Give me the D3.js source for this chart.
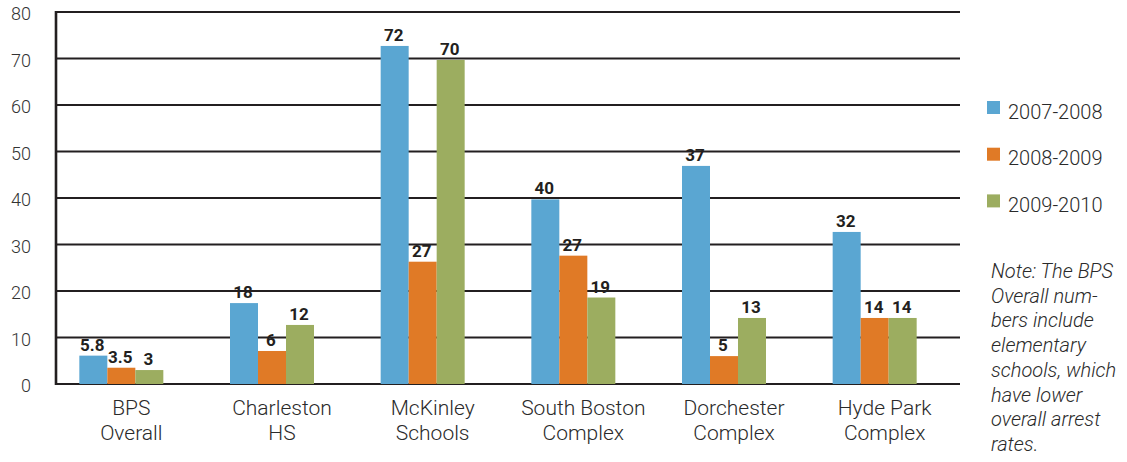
<!DOCTYPE html>
<html>
<head>
<meta charset="utf-8">
<script src="https://cdn.jsdelivr.net/npm/d3@7"></script>
<style>
  body { margin: 0; background: #fff; }
  svg { display: block; font-family: Roboto, "Open Sans", sans-serif; }
</style>
</head>
<body>
<div id="chart"></div>
<script>
// data
const categories = ["BPS|Overall", "Charleston|HS", "McKinley|Schools", "South Boston|Complex", "Dorchester|Complex", "Hyde Park|Complex"];
const seriesNames = ["2007-2008", "2008-2009", "2009-2010"];
// bar heights as drawn
const heights2007 = [6.1, 17.4, 72.7, 39.7, 46.9, 32.7];
const heights2008 = [3.5, 7.1, 26.3, 27.6, 6.0, 14.2];
const heights2009 = [3.0, 12.7, 69.7, 18.6, 14.2, 14.2];
// printed value labels
const labels2007 = ["5.8", "18", "72", "40", "37", "32"];
const labels2008 = ["3.5", "6", "27", "27", "5", "14"];
const labels2009 = ["3", "12", "70", "19", "13", "14"];
const yTicks = [0, 10, 20, 30, 40, 50, 60, 70, 80];
const noteLines = ["Note: The BPS", "Overall num-", "bers include", "elementary", "schools, which", "have lower", "overall arrest", "rates."];

const colors = ["#5aa6d2", "#e07a26", "#9cad60"];
const ink = "#231f20";

const width = 1127, height = 462;
const plotLeft = 56, plotRight = 960, plotTop = 12, plotBottom = 384;

const svg = d3.select("#chart").append("svg")
  .attr("width", width)
  .attr("height", height);

const x = d3.scaleBand().domain(categories).range([plotLeft, plotRight]);
const xs = d3.scaleBand().domain(seriesNames).range([0, 84]);
const y = d3.scaleLinear().domain([0, 80]).range([plotBottom, plotTop]);

// gridlines
svg.append("g")
  .selectAll("line")
  .data(yTicks)
  .join("line")
    .attr("x1", plotLeft)
    .attr("x2", plotRight)
    .attr("y1", d => y(d))
    .attr("y2", d => y(d))
    .attr("stroke", ink)
    .attr("stroke-width", 2.2);

// y axis line
svg.append("line")
  .attr("x1", plotLeft).attr("x2", plotLeft)
  .attr("y1", y(80) - 1).attr("y2", y(0) + 1)
  .attr("stroke", ink)
  .attr("stroke-width", 2.6);

// y tick labels
svg.append("g")
  .selectAll("text")
  .data(yTicks)
  .join("text")
    .attr("x", 31)
    .attr("y", d => y(d) + 2)
    .attr("dy", "0.36em")
    .attr("text-anchor", "end")
    .attr("font-size", 18)
    .attr("font-weight", 300)
    .attr("fill", "#333")
    .text(d => d);

const heights = [heights2007, heights2008, heights2009];
const labels = [labels2007, labels2008, labels2009];

const rows = [];
categories.forEach((c, i) => {
  seriesNames.forEach((s, j) => {
    rows.push({cat: c, series: s, j, value: heights[j][i], label: labels[j][i]});
  });
});

const groupX = c => x(c) + x.bandwidth() / 2 - 42 - 10;

// bars
svg.append("g")
  .selectAll("rect")
  .data(rows)
  .join("rect")
    .attr("x", d => groupX(d.cat) + xs(d.series))
    .attr("width", xs.bandwidth())
    .attr("y", d => y(d.value))
    .attr("height", d => y(0) - y(d.value))
    .attr("fill", d => colors[d.j]);

// value labels
svg.append("g")
  .selectAll("text")
  .data(rows)
  .join("text")
    .attr("x", d => groupX(d.cat) + xs(d.series) + xs.bandwidth() / 2 - 1)
    .attr("y", d => y(d.value) - 5)
    .attr("text-anchor", "middle")
    .attr("font-size", 17)
    .attr("font-weight", 700)
    .attr("fill", ink)
    .text(d => d.label);

// category labels
const cat = svg.append("g")
  .selectAll("text")
  .data(categories)
  .join("text")
    .attr("text-anchor", "middle")
    .attr("font-size", 21)
    .attr("font-weight", 300)
    .attr("fill", "#2a2a2a");
cat.each(function(d) {
  const t = d3.select(this);
  const cx = x(d) + x.bandwidth() / 2;
  d.split("|").forEach((line, k) => {
    t.append("tspan").attr("x", cx).attr("y", 415 + k * 25).text(line);
  });
});

// legend
const legend = svg.append("g").attr("transform", "translate(987,101)");
const item = legend.selectAll("g")
  .data(seriesNames)
  .join("g")
    .attr("transform", (d, i) => `translate(0,${i * 46.7})`);
item.append("rect")
  .attr("width", 13).attr("height", 13)
  .attr("fill", (d, i) => colors[i]);
item.append("text")
  .attr("x", 21)
  .attr("y", 17.5)
  .attr("font-size", 20)
  .attr("font-weight", 300)
  .attr("fill", "#2a2a2a")
  .text(d => d);

// note
svg.append("text")
  .attr("font-size", 20)
  .attr("font-style", "italic")
  .attr("font-weight", 300)
  .attr("fill", "#2a2a2a")
  .selectAll("tspan")
  .data(noteLines)
  .join("tspan")
    .attr("x", 991)
    .attr("y", (d, i) => 278 + i * 24.7)
    .text(d => d);
</script>
</body>
</html>
